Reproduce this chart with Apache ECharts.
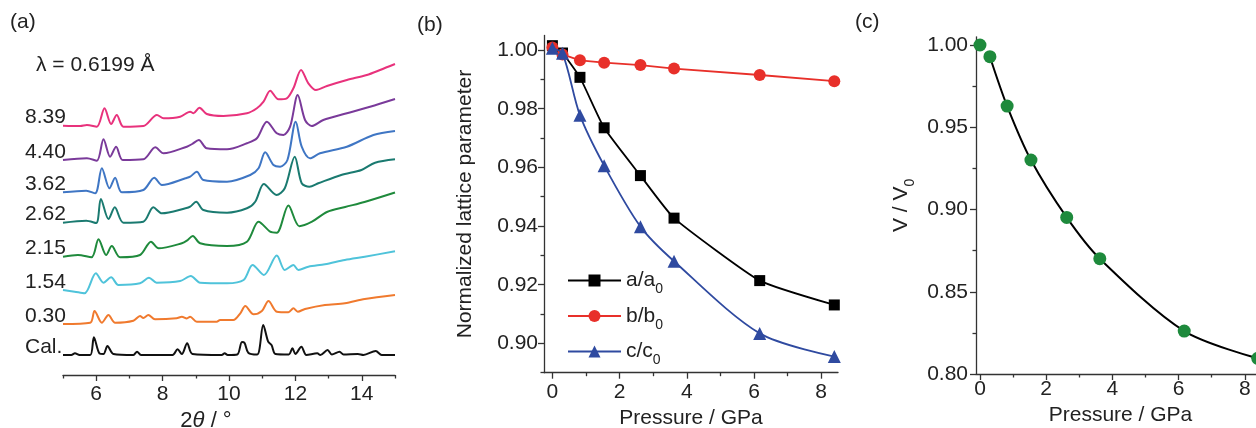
<!DOCTYPE html>
<html><head><meta charset="utf-8">
<script src="https://cdn.jsdelivr.net/npm/echarts@6/dist/echarts.min.js"></script>
<style>html,body{margin:0;padding:0;background:#fff}#c{width:1256px;height:428px}</style>
</head><body><div id="c"></div>
<script>
// ---------- Panel (a): powder XRD patterns, [2theta (deg), intensity (a.u.)] ----------
const xrdLabels = ['8.39', '4.40', '3.62', '2.62', '2.15', '1.54', '0.30', 'Cal.'];
const xrdColors = ['#e8327c', '#7a3a9a', '#3f76c4', '#1a7a70', '#1f8a3c', '#4fc3da', '#f07a2e', '#111111'];
const xrdOffsets = [249.3, 215, 182.7, 152.3, 118.3, 85, 51, 20];
const xrd839 = [[5.0,0],[5.52,-0.3],[5.72,0.7],[6.02,-1],[6.25,17.4],[6.45,1.7],[6.62,10.7],[6.82,-1],[7.42,-0.3],[7.83,10.7],[8.03,7.4],[8.53,9],[8.83,14],[8.93,12.4],[9.11,18],[9.33,11.7],[9.83,9.7],[10.54,12.4],[10.84,17.4],[11.04,24],[11.24,35],[11.49,26.4],[11.74,27.4],[11.94,37.4],[12.17,55.7],[12.39,42.4],[12.62,35.7],[12.95,39.7],[13.55,45.7],[14.15,50.7],[14.55,55.7],[15.0,61.7]];
const xrd440 = [[5.0,0],[5.72,1.7],[6.02,-0.7],[6.22,20.7],[6.42,3.3],[6.60,13.3],[6.80,0],[7.42,0.7],[7.78,12.7],[8.03,6.7],[8.73,13.3],[8.89,16],[9.09,20],[9.33,11.7],[9.94,10.7],[10.54,16.7],[10.84,21.7],[11.14,38.3],[11.44,26.7],[11.64,25],[11.84,33.3],[12.07,65],[12.29,40],[12.49,34],[12.84,40],[13.55,46.7],[14.25,53.3],[15.0,61]];
const xrd362 = [[5.0,0],[5.70,1.6],[5.97,-1],[6.17,24],[6.40,4],[6.57,14.6],[6.77,0],[7.42,2.3],[7.75,14.6],[7.98,7.3],[8.69,14],[8.83,15.6],[9.03,20.6],[9.23,12.3],[9.94,10.6],[10.64,17.3],[10.89,24],[11.09,40],[11.34,27.3],[11.54,25.6],[11.76,32.3],[12.01,70.6],[12.19,45.6],[12.44,34],[12.74,39],[13.55,45.6],[14.35,57.3],[15.0,61.3]];
const xrd262 = [[5.0,0],[5.70,2],[6.00,-0.3],[6.14,23.7],[6.37,3.7],[6.56,15.4],[6.82,0],[7.42,1],[7.72,15.4],[7.98,9.4],[8.69,14.4],[8.83,16],[9.01,21],[9.23,12.7],[9.94,10],[10.54,14.4],[10.79,21],[11.05,38.7],[11.43,27.7],[11.68,34.4],[11.98,66],[12.19,39.4],[12.42,36],[12.69,39.4],[13.38,47.7],[13.99,52.7],[14.40,60],[15.0,63.4]];
const xrd215 = [[5.0,0],[5.45,1.7],[5.86,-0.6],[6.07,17.4],[6.30,1.7],[6.47,10.7],[6.72,-0.6],[7.32,1.7],[7.65,15],[7.88,8.4],[8.58,13.4],[8.73,16],[8.91,20.7],[9.13,13.4],[9.94,10.7],[10.54,15],[10.89,35],[11.24,25],[11.44,24],[11.79,51.2],[12.12,30.5],[12.50,35],[12.95,44.7],[13.50,49.7],[14.08,54.7],[15.0,64.2]];
const xrd154 = [[5.0,0],[5.35,-1.7],[5.65,-3.3],[5.99,16.7],[6.22,7.3],[6.45,12.7],[6.67,5],[7.32,6.7],[7.59,12.3],[7.82,7.3],[8.53,9],[8.85,14],[9.13,7.3],[9.94,6.7],[10.44,10],[10.71,25],[11.05,15],[11.44,34.5],[11.68,20],[11.94,25],[12.09,20],[12.39,23.3],[12.89,25.7],[13.49,30],[14.09,33.3],[15.0,38.7]];
const xrd030 = [[5.0,0],[5.82,1.3],[5.95,13],[6.17,1.3],[6.37,9],[6.57,1.3],[7.12,3.3],[7.32,8],[7.42,6],[7.57,9],[7.77,4.7],[8.42,5.7],[8.58,7.3],[8.73,5.5],[8.83,7.3],[9.03,2.3],[9.63,2.3],[9.73,4],[10.13,4],[10.34,10.7],[10.49,18],[10.74,9.7],[10.99,13],[11.19,23],[11.44,12.3],[11.79,11.7],[11.94,15.7],[12.07,12.3],[12.29,15],[12.89,19],[13.49,20.7],[14.09,25],[15.0,29]];
const xrdCal = [[5.0,0],[5.25,0],[5.36,1.7],[5.5,0],[5.82,0],[5.93,17.7],[6.1,1.5],[6.22,1],[6.34,9],[6.52,1],[7.12,0],[7.23,3.3],[7.35,0],[8.3,0],[8.45,5.7],[8.58,1],[8.74,11.7],[8.90,1],[9.78,0],[9.87,1.7],[9.96,0],[10.25,0.5],[10.39,13],[10.47,12],[10.58,2.3],[10.85,0.5],[11.03,30],[11.18,13.3],[11.28,10],[11.40,1],[11.8,0.5],[11.91,6.7],[12.0,1],[12.18,8.3],[12.33,0],[12.66,1.7],[12.75,0],[12.97,5],[13.1,0.5],[13.33,3.3],[13.45,0.5],[13.88,1],[14.05,0],[14.42,4],[14.6,0],[15.0,0]];
const xrdPatterns = [xrd839, xrd440, xrd362, xrd262, xrd215, xrd154, xrd030, xrdCal];
const xrdTicks = [6, 8, 10, 12, 14];
const xrdMinorTicks = [5, 7, 9, 11, 13, 15];

// ---------- Panel (b): normalized lattice parameters ----------
const pressure = [0, 0.30, 0.82, 1.54, 2.62, 3.62, 6.17, 8.39];
const aRatio = [1.0015, 0.9990, 0.9907, 0.9735, 0.9572, 0.9427, 0.9214, 0.9131];
const bRatio = [1.0009, 0.9985, 0.9965, 0.9957, 0.9949, 0.9937, 0.9915, 0.9894];
const cRatio = [1.0006, 0.9989, 0.9778, 0.9606, 0.9398, 0.9280, 0.9034, 0.8955];
const latticeTicks = [0.90, 0.92, 0.94, 0.96, 0.98, 1.00];
const latticeMinorTicks = [0.89, 0.91, 0.93, 0.95, 0.97, 0.99];
const pressureTicks = [0, 2, 4, 6, 8];
const pressureMinorTicks = [1, 3, 5, 7];

// ---------- Panel (c): normalized volume ----------
const volRatio = [1.000, 0.9929, 0.9629, 0.9301, 0.8952, 0.8701, 0.8261, 0.8095];
const volTicks = [0.80, 0.85, 0.90, 0.95, 1.00];
const volMinorTicks = [0.825, 0.875, 0.925, 0.975];

const FONT = "'Liberation Sans', Arial, sans-serif";
const TXT = '#222';
const AX = '#333';

function zip(xs, ys) { return xs.map((x, i) => [x, ys[i]]); }

function mainAxis(gridIndex, min, max, ticks, extra) {
  return Object.assign({
    type: 'value', gridIndex, min, max, position: 'bottom',
    axisLine: { show: true, onZero: false, lineStyle: { color: AX, width: 1.3 } },
    axisTick: { show: true, customValues: ticks, length: 6, lineStyle: { color: AX, width: 1.3 } },
    axisLabel: { show: true, customValues: ticks, margin: 9, fontSize: 21, fontFamily: FONT, color: TXT },
    splitLine: { show: false },
    nameLocation: 'middle',
    nameTextStyle: { fontSize: 21, fontFamily: FONT, color: TXT }
  }, extra || {});
}
function minorAxis(gridIndex, min, max, ticks, pos) {
  return {
    type: 'value', gridIndex, min, max, position: pos,
    axisLine: { show: false, onZero: false },
    axisTick: { show: true, customValues: ticks, length: 3.5, lineStyle: { color: AX, width: 1.3 } },
    axisLabel: { show: false },
    splitLine: { show: false }
  };
}

const xrdSeries = xrdPatterns.map((pat, k) => ({
  type: 'line', name: xrdLabels[k], xAxisIndex: 0, yAxisIndex: 0,
  data: pat.map((p, i) => {
    const item = { value: [p[0], p[1] + xrdOffsets[k]] };
    if (i === 0) {
      item.label = {
        show: true, formatter: xrdLabels[k], position: 'left', distance: 0, align: 'left',
        offset: [-38, -8], fontSize: 21, fontFamily: FONT, color: TXT
      };
    }
    return item;
  }),
  symbol: 'circle', symbolSize: 0, showSymbol: true,
  smooth: 0.3,
  lineStyle: { color: xrdColors[k], width: 2 },
  itemStyle: { color: xrdColors[k] },
  silent: true, emphasis: { disabled: true }, z: 2
}));

const chart = echarts.init(document.getElementById('c'), null, { renderer: 'canvas' });
chart.setOption({
  animation: false,
  backgroundColor: '#fff',
  textStyle: { fontFamily: FONT },
  title: [
    { text: '(a)', left: 10, top: 12, padding: 0, textStyle: { fontSize: 21, fontWeight: 'normal', color: TXT, fontFamily: FONT } },
    { text: 'λ = 0.6199 Å', left: 36, top: 55, padding: 0, textStyle: { fontSize: 21, fontWeight: 'normal', color: TXT, fontFamily: FONT } },
    { text: '(b)', left: 417, top: 15, padding: 0, textStyle: { fontSize: 21, fontWeight: 'normal', color: TXT, fontFamily: FONT } },
    { text: '(c)', left: 855, top: 12, padding: 0, textStyle: { fontSize: 21, fontWeight: 'normal', color: TXT, fontFamily: FONT } }
  ],
  grid: [
    { left: 63, top: 40, width: 332, height: 335, outerBoundsMode: 'none', containLabel: false },
    { left: 544, top: 35.4, width: 294, height: 337.3, outerBoundsMode: 'none', containLabel: false },
    { left: 976, top: 36.8, width: 289, height: 337.2, outerBoundsMode: 'none', containLabel: false }
  ],
  legend: {
    left: 567, top: 270, orient: 'vertical', padding: 0, itemGap: 9,
    itemWidth: 53, itemHeight: 15,
    data: ['a', 'b', 'c'],
    formatter: n => '{n|' + n + '/' + n + '}{s|0}',
    textStyle: {
      rich: {
        n: { fontSize: 21, fontFamily: FONT, color: TXT, lineHeight: 21 },
        s: { fontSize: 14, fontFamily: FONT, color: TXT, padding: [18, 0, 0, 0] }
      }
    }
  },
  xAxis: [
    mainAxis(0, 5, 15, xrdTicks, {
      name: '{n|2}{i|θ}{n| / °}', nameGap: 32,
      nameTextStyle: {
        padding: [0, 46, 0, 0],
        rich: {
          n: { fontSize: 22, fontFamily: FONT, color: TXT },
          i: { fontSize: 22, fontFamily: FONT, color: TXT, fontStyle: 'italic' }
        }
      }
    }),
    minorAxis(0, 5, 15, xrdMinorTicks, 'bottom'),
    mainAxis(1, -0.25, 8.5, pressureTicks, { name: 'Pressure / GPa', nameGap: 35 }),
    minorAxis(1, -0.25, 8.5, pressureMinorTicks, 'bottom'),
    mainAxis(2, -0.12, 8.61, pressureTicks, {
      name: 'Pressure / GPa', nameGap: 30,
      axisLabel: { show: true, customValues: pressureTicks, margin: 5, fontSize: 21, fontFamily: FONT, color: TXT }
    }),
    minorAxis(2, -0.12, 8.61, pressureMinorTicks, 'bottom')
  ],
  yAxis: [
    { type: 'value', gridIndex: 0, min: 0, max: 335, show: false },
    mainAxis(1, 0.89, 1.005, latticeTicks, {
      position: 'left', name: 'Normalized lattice parameter', nameGap: 68,
      axisLabel: { show: true, customValues: latticeTicks, margin: 6, fontSize: 21, fontFamily: FONT, color: TXT,
        formatter: v => v.toFixed(2) }
    }),
    minorAxis(1, 0.89, 1.005, latticeMinorTicks, 'left'),
    mainAxis(2, 0.8, 1.005, volTicks, {
      position: 'left', name: '{n|V / V}{s|0}', nameGap: 59,
      axisLabel: { show: true, customValues: volTicks, margin: 8, fontSize: 21, fontFamily: FONT, color: TXT,
        formatter: v => v.toFixed(2) },
      nameTextStyle: {
        rich: {
          n: { fontSize: 21, fontFamily: FONT, color: TXT, lineHeight: 21 },
          s: { fontSize: 14, fontFamily: FONT, color: TXT, padding: [18, 0, 0, 0] }
        }
      }
    }),
    minorAxis(2, 0.8, 1.005, volMinorTicks, 'left')
  ],
  series: xrdSeries.concat([
    {
      type: 'line', name: 'a', xAxisIndex: 2, yAxisIndex: 1, data: zip(pressure, aRatio),
      symbol: 'rect', symbolSize: 11, smooth: 0.15,
      lineStyle: { color: '#000', width: 1.8 }, itemStyle: { color: '#000' }, z: 3
    },
    {
      type: 'line', name: 'b', xAxisIndex: 2, yAxisIndex: 1, data: zip(pressure, bRatio),
      symbol: 'circle', symbolSize: 12,
      lineStyle: { color: '#e8302a', width: 1.8 }, itemStyle: { color: '#e8302a' }, z: 3
    },
    {
      type: 'line', name: 'c', xAxisIndex: 2, yAxisIndex: 1, data: zip(pressure, cRatio),
      symbol: 'triangle', symbolSize: 13, smooth: 0.3,
      lineStyle: { color: '#2f4aa0', width: 1.8 }, itemStyle: { color: '#2f4aa0' }, z: 4
    },
    {
      type: 'line', name: 'Vfit', xAxisIndex: 4, yAxisIndex: 3,
      data: zip(pressure, volRatio).slice(1),
      symbol: 'none', smooth: 0.3,
      lineStyle: { color: '#000', width: 2 }, z: 3
    },
    {
      type: 'scatter', name: 'V', xAxisIndex: 4, yAxisIndex: 3, data: zip(pressure, volRatio),
      symbol: 'circle', symbolSize: 13, itemStyle: { color: '#1e8a3c', opacity: 1 }, z: 4
    }
  ])
});
</script></body></html>
